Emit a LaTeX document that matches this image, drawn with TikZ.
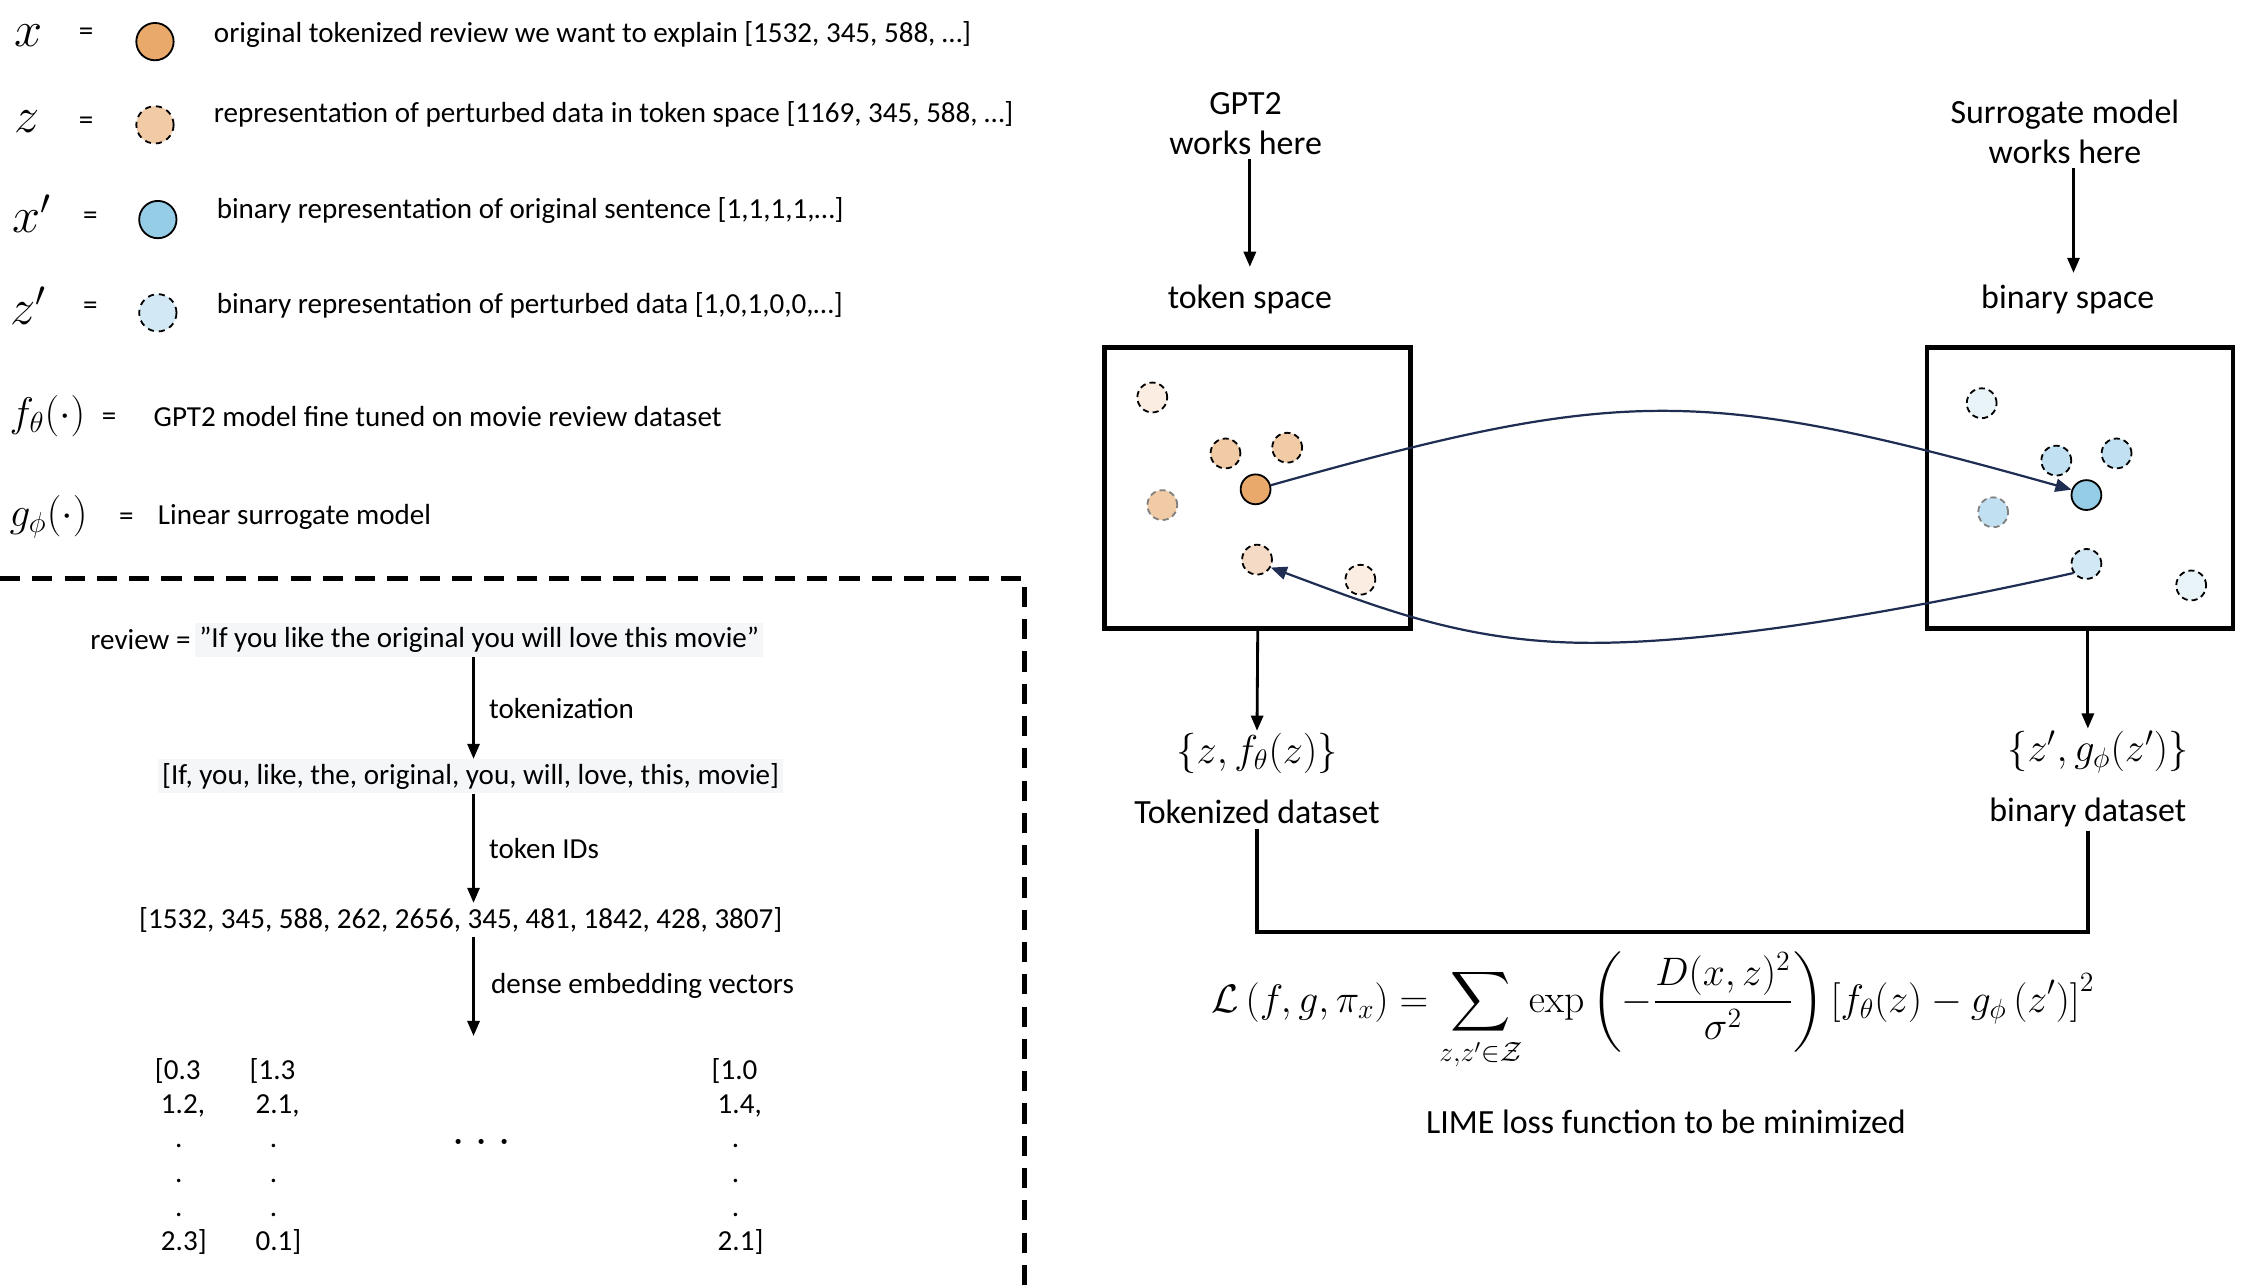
\RequirePackage{fix-cm}
\documentclass[tikz,border=0pt]{standalone}
\usepackage{amsmath}
\usepackage[no-math]{fontspec}
\setmainfont{Carlito}
\usepackage{xcolor}
\definecolor{Navy}{HTML}{1F2D52}
\definecolor{OrangeX}{HTML}{E8A96B}
\definecolor{OrangeMid}{HTML}{F0CBA6}
\definecolor{OrangeSoft}{HTML}{F5DBC5}
\definecolor{OrangePale}{HTML}{FBEDE2}
\definecolor{BlueX}{HTML}{95CCE6}
\definecolor{BlueMid}{HTML}{C1E0F1}
\definecolor{BlueSoft}{HTML}{D3E8F5}
\definecolor{BluePale}{HTML}{E9F4F9}
\definecolor{Hilite}{HTML}{F5F6F8}
\usepackage{tikz}
\usetikzlibrary{arrows.meta,positioning,calc}

\begin{document}
\begin{tikzpicture}[x=0.025cm,y=-0.025cm,
  txt/.style={font=\fontsize{14.4}{17}\selectfont,inner sep=2pt},
  lbl/.style={font=\fontsize{16.8}{19.8}\selectfont,inner sep=2pt,align=center},
  sym/.style={font=\fontsize{20.5}{24}\selectfont,inner sep=1pt},
  keysym/.style={font=\fontsize{25}{28}\selectfont,inner sep=1pt},
  keydot/.style={circle,draw=black,line width=0.9pt,minimum size=0.65cm,inner sep=0pt},
  sample/.style={circle,draw=black,line width=0.9pt,minimum size=0.52cm,inner sep=0pt},
  perturbed/.style={sample,dash pattern=on 3pt off 2pt},
  arrow/.style={-{Triangle[width=6pt,length=7.5pt]},line width=1.4pt},
  curvearrow/.style={-{Triangle[width=6.5pt,length=8pt]},draw=Navy,line width=1.1pt},
  spacebox/.style={draw,line width=2.3pt,minimum width=5.33cm,minimum height=4.9cm},
  bracket/.style={line width=2.3pt}
]
  \useasboundingbox (0,0) rectangle (1568,896);

  % legend
  \node[keysym] (sx) at (20,25) {$x$};
  \node[txt] (ex) at (60,24) {=};
  \node[keydot,fill=OrangeX] (kx) at (108,29) {};
  \node[txt,anchor=west] (lx) at (146,24) {original tokenized review we want to explain [1532, 345, 588, …]};

  \node[keysym] (sz) at (19,85) {$z$};
  \node[txt] (ez) at (60,86) {=};
  \node[keydot,fill=OrangeMid,dash pattern=on 3pt off 2.5pt] (kz) at (108,87) {};
  \node[txt,anchor=west] (lz) at (146,80) {representation of perturbed data in token space [1169, 345, 588, …]};

  \node[keysym] (sxp) at (22,149) {$x'$};
  \node[txt] (exp) at (63,152) {=};
  \node[keydot,fill=BlueX] (kxp) at (110,153) {};
  \node[txt,anchor=west] (lxp) at (148,147) {binary representation of original sentence [1,1,1,1,…]};

  \node[keysym] (szp) at (20,213) {$z'$};
  \node[txt] (ezp) at (63,215) {=};
  \node[keydot,fill=BlueSoft,dash pattern=on 3pt off 2.5pt] (kzp) at (110,218) {};
  \node[txt,anchor=west] (lzp) at (148,213) {binary representation of perturbed data [1,0,1,0,0,…]};

  \node[sym,anchor=west] (sf) at (5,290) {$f_\theta(\cdot)$};
  \node[txt] (ef) at (76,292) {=};
  \node[txt,anchor=west] (lf) at (104,290) {GPT2 model fine tuned on movie review dataset};

  \node[sym,anchor=west] (sg) at (5,360) {$g_\phi(\cdot)$};
  \node[txt] (eg) at (88,362) {=};
  \node[txt,anchor=west] (lg) at (107,360) {Linear surrogate model};

  % dashed frame
  \draw[line width=2.2pt,dash pattern=on 10pt off 6pt] (0,403) -- (714,403) -- (714,896);

  % tokenization flow
  \node[txt,fill=Hilite] (quote) at (334,446) {”If you like the original you will love this movie”};
  \node[txt,left=0pt of quote] (rv) {review =};
  \node[txt,fill=Hilite] (words) at (328,541) {[If, you, like, the, original, you, will, love, this, movie]};
  \node[txt] (ids) at (321,641) {[1532, 345, 588, 262, 2656, 345, 481, 1842, 428, 3807]};
  \node[txt,align=left] (v1) at (126,806) {[0.3\\\hspace{3pt}1.2,\\\hspace{10pt}.\\\hspace{10pt}.\\\hspace{10pt}.\\\hspace{3pt}2.3]};
  \node[txt,align=left] (v2) at (192,806) {[1.3\\\hspace{3pt}2.1,\\\hspace{10pt}.\\\hspace{10pt}.\\\hspace{10pt}.\\\hspace{3pt}0.1]};
  \node[txt,align=left] (v3) at (514,806) {[1.0\\\hspace{3pt}1.4,\\\hspace{10pt}.\\\hspace{10pt}.\\\hspace{10pt}.\\\hspace{3pt}2.1]};
  \node[font=\fontsize{26}{28}\selectfont] (vdots) at (336,796) {$\ldots$};
  \coordinate (vtop) at (330,722);

  \draw[arrow] (quote.south -| vtop) -- (words.north -| vtop) node[txt,midway,right=5pt] (ltok) {tokenization};
  \draw[arrow] (words.south -| vtop) -- (ids.north -| vtop) node[txt,midway,right=5pt] (lids) {token IDs};
  \draw[arrow] (ids.south -| vtop) -- (vtop) node[txt,midway,right=6pt] (lemb) {dense embedding vectors};

  % token space / binary space
  \node[lbl] (gpt) at (868,86) {GPT2\\works here};
  \node[lbl] (tsp) at (871,209) {token space};
  \node[lbl] (sur) at (1439,92) {Surrogate model\\works here};
  \node[lbl] (bsp) at (1441,209) {binary space};
  \draw[arrow,shorten >=7pt] (gpt.south -| tsp) -- (tsp.north);
  \draw[arrow,shorten >=4pt] (sur.south -| 1445,0) -- (bsp.north -| 1445,0);

  \node[spacebox] (tbox) at (876.5,340) {};
  \node[spacebox] (bbox) at (1449.5,340) {};

  \node[perturbed,fill=OrangePale] (t1) at (803,277) {};
  \node[perturbed,fill=OrangeMid] (t2) at (854,316) {};
  \node[perturbed,fill=OrangeMid] (t3) at (897,312) {};
  \node[sample,fill=OrangeX] (t4) at (875,341) {};
  \node[perturbed,fill=OrangeMid,draw=gray] (t5) at (810,352) {};
  \node[perturbed,fill=OrangeSoft] (t6) at (876,390) {};
  \node[perturbed,fill=OrangePale] (t7) at (948,404) {};

  \node[perturbed,fill=BluePale] (b1) at (1381,281) {};
  \node[perturbed,fill=BlueMid] (b2) at (1433,321) {};
  \node[perturbed,fill=BlueMid] (b3) at (1475,316) {};
  \node[sample,fill=BlueX] (b4) at (1454,345) {};
  \node[perturbed,fill=BlueMid,draw=gray] (b5) at (1389,357) {};
  \node[perturbed,fill=BlueSoft] (b6) at (1454,393) {};
  \node[perturbed,fill=BluePale] (b7) at (1527,408) {};

  \coordinate (dip) at (1109,448);
  \draw[curvearrow] (t4.15) .. controls (1131,269) and (1186,269) .. (b4.160);
  \draw[curvearrow] (b6.215) .. controls (1330,425) and (1200,448) .. (dip)
    .. controls (1020,448) and (960,423) .. (t6.-30);

  % datasets and loss
  \node[sym,font=\fontsize{20}{24}\selectfont] (tset) at (876,525) {$\{z, f_\theta(z)\}$};
  \node[lbl] (tds) at (876,566) {Tokenized dataset};
  \node[sym,font=\fontsize{20}{24}\selectfont] (bset) at (1462,524) {$\{z', g_\phi(z')\}$};
  \node[lbl] (bds) at (1455,566) {binary dataset};
  \draw[arrow] (tbox.south) -- (tset.north);
  \draw[arrow] (bbox.south -| bds) -- (bds |- bset.north);
  \draw[bracket] (tds.south) -- ++(0,72) -| (bds.south);

  \node[sym,font=\fontsize{19.7}{24}\selectfont] (loss) at (1152,705) {$\displaystyle \mathcal{L}\left(f, g, \pi_x\right)=\sum_{z, z' \in \mathcal{Z}} \exp\left(-\frac{D(x, z)^2}{\sigma^2}\right)\left[f_\theta(z)-g_\phi\left(z'\right)\right]^2$};
  \node[lbl] (cap) at (1161,782) {LIME loss function to be minimized};
\end{tikzpicture}
\end{document}
